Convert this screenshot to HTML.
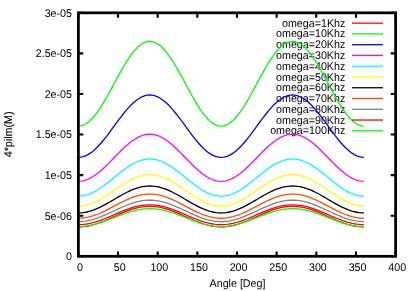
<!DOCTYPE html>
<html><head><meta charset="utf-8"><title>plot</title>
<style>html,body{margin:0;padding:0;background:#fff;}svg{display:block;will-change:transform;}text{font-family:"Liberation Sans",sans-serif;font-size:10.7px;fill:#000;text-rendering:geometricPrecision;}</style></head>
<body>
<svg width="415" height="291" viewBox="0 0 415 291">
<rect x="0" y="0" width="415" height="291" fill="#fff"/>
<text transform="translate(72.0 260.10) scale(1 1.04)" text-anchor="end">0</text>
<text transform="translate(72.0 219.52) scale(1 1.04)" text-anchor="end">5e-06</text>
<text transform="translate(72.0 178.94) scale(1 1.04)" text-anchor="end">1e-05</text>
<text transform="translate(72.0 138.37) scale(1 1.04)" text-anchor="end">1.5e-05</text>
<text transform="translate(72.0 97.79) scale(1 1.04)" text-anchor="end">2e-05</text>
<text transform="translate(72.0 57.21) scale(1 1.04)" text-anchor="end">2.5e-05</text>
<text transform="translate(72.0 16.63) scale(1 1.04)" text-anchor="end">3e-05</text>
<text transform="translate(80.00 271.1) scale(1 1.04)" text-anchor="middle">0</text>
<text transform="translate(119.65 271.1) scale(1 1.04)" text-anchor="middle">50</text>
<text transform="translate(159.30 271.1) scale(1 1.04)" text-anchor="middle">100</text>
<text transform="translate(198.95 271.1) scale(1 1.04)" text-anchor="middle">150</text>
<text transform="translate(238.60 271.1) scale(1 1.04)" text-anchor="middle">200</text>
<text transform="translate(278.25 271.1) scale(1 1.04)" text-anchor="middle">250</text>
<text transform="translate(317.90 271.1) scale(1 1.04)" text-anchor="middle">300</text>
<text transform="translate(357.55 271.1) scale(1 1.04)" text-anchor="middle">350</text>
<text transform="translate(397.20 271.1) scale(1 1.04)" text-anchor="middle">400</text>
<text transform="translate(237.5 286.9) scale(1 1.04)" text-anchor="middle">Angle [Deg]</text>
<text transform="translate(12.4,134.4) rotate(-90) scale(1 1.04)" text-anchor="middle" stroke="#000" stroke-width="0.12">4*pilm(M)</text>
<text transform="translate(345.3 26.70) scale(1 1.04)" text-anchor="end">omega=1Khz</text>
<text transform="translate(345.3 37.46) scale(1 1.04)" text-anchor="end">omega=10Khz</text>
<text transform="translate(345.3 48.23) scale(1 1.04)" text-anchor="end">omega=20Khz</text>
<text transform="translate(345.3 58.99) scale(1 1.04)" text-anchor="end">omega=30Khz</text>
<text transform="translate(345.3 69.76) scale(1 1.04)" text-anchor="end">omega=40Khz</text>
<text transform="translate(345.3 80.52) scale(1 1.04)" text-anchor="end">omega=50Khz</text>
<text transform="translate(345.3 91.29) scale(1 1.04)" text-anchor="end">omega=60Khz</text>
<text transform="translate(345.3 102.05) scale(1 1.04)" text-anchor="end">omega=70Khz</text>
<text transform="translate(345.3 112.82) scale(1 1.04)" text-anchor="end">omega=80Khz</text>
<text transform="translate(345.3 123.58) scale(1 1.04)" text-anchor="end">omega=90Khz</text>
<text transform="translate(345.3 134.35) scale(1 1.04)" text-anchor="end">omega=100Khz</text>
<path d="M352 23.15H382.9" stroke="#ff0000" stroke-width="1.3" fill="none"/>
<path d="M78.40 226.90 L80.78 226.84 L83.16 226.67 L85.54 226.40 L87.92 226.01 L90.30 225.52 L92.67 224.93 L95.05 224.25 L97.43 223.49 L99.81 222.65 L102.19 221.75 L104.57 220.79 L106.95 219.78 L109.33 218.74 L111.71 217.68 L114.09 216.60 L116.46 215.52 L118.84 214.46 L121.22 213.42 L123.60 212.41 L125.98 211.45 L128.36 210.55 L130.74 209.71 L133.12 208.95 L135.50 208.27 L137.88 207.68 L140.25 207.19 L142.63 206.80 L145.01 206.53 L147.39 206.36 L149.77 206.30 L152.15 206.36 L154.53 206.53 L156.91 206.80 L159.29 207.19 L161.67 207.68 L164.04 208.27 L166.42 208.95 L168.80 209.71 L171.18 210.55 L173.56 211.45 L175.94 212.41 L178.32 213.42 L180.70 214.46 L183.08 215.52 L185.46 216.60 L187.83 217.68 L190.21 218.74 L192.59 219.78 L194.97 220.79 L197.35 221.75 L199.73 222.65 L202.11 223.49 L204.49 224.25 L206.87 224.93 L209.25 225.52 L211.62 226.01 L214.00 226.40 L216.38 226.67 L218.76 226.84 L221.14 226.90 L223.52 226.84 L225.90 226.67 L228.28 226.40 L230.66 226.01 L233.04 225.52 L235.41 224.93 L237.79 224.25 L240.17 223.49 L242.55 222.65 L244.93 221.75 L247.31 220.79 L249.69 219.78 L252.07 218.74 L254.45 217.68 L256.83 216.60 L259.20 215.52 L261.58 214.46 L263.96 213.42 L266.34 212.41 L268.72 211.45 L271.10 210.55 L273.48 209.71 L275.86 208.95 L278.24 208.27 L280.62 207.68 L282.99 207.19 L285.37 206.80 L287.75 206.53 L290.13 206.36 L292.51 206.30 L294.89 206.36 L297.27 206.53 L299.65 206.80 L302.03 207.19 L304.41 207.68 L306.78 208.27 L309.16 208.95 L311.54 209.71 L313.92 210.55 L316.30 211.45 L318.68 212.41 L321.06 213.42 L323.44 214.46 L325.82 215.52 L328.20 216.60 L330.57 217.68 L332.95 218.74 L335.33 219.78 L337.71 220.79 L340.09 221.75 L342.47 222.65 L344.85 223.49 L347.23 224.25 L349.61 224.93 L351.99 225.52 L354.36 226.01 L356.74 226.40 L359.12 226.67 L361.50 226.84 L363.88 226.90" stroke="#ff0000" stroke-width="1.3" fill="none" stroke-linejoin="round"/>
<path d="M352 33.91H382.9" stroke="#00ff00" stroke-width="1.3" fill="none"/>
<path d="M78.40 126.05 L80.78 125.82 L83.16 125.12 L85.54 123.98 L87.92 122.39 L90.30 120.38 L92.67 117.96 L95.05 115.17 L97.43 112.04 L99.81 108.59 L102.19 104.88 L104.57 100.93 L106.95 96.79 L109.33 92.51 L111.71 88.13 L114.09 83.70 L116.46 79.27 L118.84 74.89 L121.22 70.61 L123.60 66.47 L125.98 62.53 L128.36 58.81 L130.74 55.36 L133.12 52.23 L135.50 49.44 L137.88 47.02 L140.25 45.01 L142.63 43.42 L145.01 42.28 L147.39 41.58 L149.77 41.35 L152.15 41.58 L154.53 42.28 L156.91 43.42 L159.29 45.01 L161.67 47.02 L164.04 49.44 L166.42 52.23 L168.80 55.36 L171.18 58.81 L173.56 62.52 L175.94 66.47 L178.32 70.61 L180.70 74.89 L183.08 79.27 L185.46 83.70 L187.83 88.13 L190.21 92.51 L192.59 96.79 L194.97 100.93 L197.35 104.88 L199.73 108.59 L202.11 112.04 L204.49 115.17 L206.87 117.96 L209.25 120.38 L211.62 122.39 L214.00 123.98 L216.38 125.12 L218.76 125.82 L221.14 126.05 L223.52 125.82 L225.90 125.12 L228.28 123.98 L230.66 122.39 L233.04 120.38 L235.41 117.96 L237.79 115.17 L240.17 112.04 L242.55 108.59 L244.93 104.87 L247.31 100.93 L249.69 96.79 L252.07 92.51 L254.45 88.13 L256.83 83.70 L259.20 79.27 L261.58 74.89 L263.96 70.61 L266.34 66.47 L268.72 62.53 L271.10 58.81 L273.48 55.36 L275.86 52.23 L278.24 49.44 L280.62 47.02 L282.99 45.01 L285.37 43.42 L287.75 42.28 L290.13 41.58 L292.51 41.35 L294.89 41.58 L297.27 42.28 L299.65 43.42 L302.03 45.01 L304.41 47.02 L306.78 49.44 L309.16 52.23 L311.54 55.36 L313.92 58.81 L316.30 62.53 L318.68 66.47 L321.06 70.61 L323.44 74.89 L325.82 79.27 L328.20 83.70 L330.57 88.13 L332.95 92.51 L335.33 96.79 L337.71 100.93 L340.09 104.87 L342.47 108.59 L344.85 112.04 L347.23 115.17 L349.61 117.96 L351.99 120.38 L354.36 122.39 L356.74 123.98 L359.12 125.12 L361.50 125.82 L363.88 126.05" stroke="#00ff00" stroke-width="1.3" fill="none" stroke-linejoin="round"/>
<path d="M352 44.68H382.9" stroke="#0000ff" stroke-width="1.3" fill="none"/>
<path d="M78.40 157.35 L80.78 157.18 L83.16 156.67 L85.54 155.82 L87.92 154.65 L90.30 153.17 L92.67 151.40 L95.05 149.34 L97.43 147.04 L99.81 144.50 L102.19 141.76 L104.57 138.86 L106.95 135.81 L109.33 132.66 L111.71 129.43 L114.09 126.18 L116.46 122.92 L118.84 119.69 L121.22 116.54 L123.60 113.49 L125.98 110.59 L128.36 107.85 L130.74 105.31 L133.12 103.01 L135.50 100.95 L137.88 99.18 L140.25 97.70 L142.63 96.53 L145.01 95.68 L147.39 95.17 L149.77 95.00 L152.15 95.17 L154.53 95.68 L156.91 96.53 L159.29 97.70 L161.67 99.18 L164.04 100.95 L166.42 103.01 L168.80 105.31 L171.18 107.85 L173.56 110.59 L175.94 113.49 L178.32 116.54 L180.70 119.69 L183.08 122.92 L185.46 126.17 L187.83 129.43 L190.21 132.66 L192.59 135.81 L194.97 138.86 L197.35 141.76 L199.73 144.50 L202.11 147.04 L204.49 149.34 L206.87 151.40 L209.25 153.17 L211.62 154.65 L214.00 155.82 L216.38 156.67 L218.76 157.18 L221.14 157.35 L223.52 157.18 L225.90 156.67 L228.28 155.82 L230.66 154.65 L233.04 153.17 L235.41 151.40 L237.79 149.34 L240.17 147.04 L242.55 144.50 L244.93 141.76 L247.31 138.86 L249.69 135.81 L252.07 132.66 L254.45 129.43 L256.83 126.18 L259.20 122.92 L261.58 119.69 L263.96 116.54 L266.34 113.49 L268.72 110.59 L271.10 107.85 L273.48 105.31 L275.86 103.01 L278.24 100.95 L280.62 99.18 L282.99 97.70 L285.37 96.53 L287.75 95.68 L290.13 95.17 L292.51 95.00 L294.89 95.17 L297.27 95.68 L299.65 96.53 L302.03 97.70 L304.41 99.18 L306.78 100.95 L309.16 103.01 L311.54 105.31 L313.92 107.85 L316.30 110.59 L318.68 113.49 L321.06 116.54 L323.44 119.69 L325.82 122.92 L328.20 126.17 L330.57 129.43 L332.95 132.66 L335.33 135.81 L337.71 138.86 L340.09 141.76 L342.47 144.50 L344.85 147.04 L347.23 149.34 L349.61 151.40 L351.99 153.17 L354.36 154.65 L356.74 155.82 L359.12 156.67 L361.50 157.18 L363.88 157.35" stroke="#0000ff" stroke-width="1.3" fill="none" stroke-linejoin="round"/>
<path d="M352 55.45H382.9" stroke="#ff00ff" stroke-width="1.3" fill="none"/>
<path d="M78.40 181.30 L80.78 181.17 L83.16 180.79 L85.54 180.15 L87.92 179.26 L90.30 178.14 L92.67 176.80 L95.05 175.25 L97.43 173.51 L99.81 171.59 L102.19 169.53 L104.57 167.33 L106.95 165.03 L109.33 162.65 L111.71 160.21 L114.09 157.75 L116.46 155.29 L118.84 152.85 L121.22 150.47 L123.60 148.17 L125.98 145.97 L128.36 143.91 L130.74 141.99 L133.12 140.25 L135.50 138.70 L137.88 137.36 L140.25 136.24 L142.63 135.35 L145.01 134.71 L147.39 134.33 L149.77 134.20 L152.15 134.33 L154.53 134.71 L156.91 135.35 L159.29 136.24 L161.67 137.36 L164.04 138.70 L166.42 140.25 L168.80 141.99 L171.18 143.91 L173.56 145.97 L175.94 148.17 L178.32 150.47 L180.70 152.85 L183.08 155.29 L185.46 157.75 L187.83 160.21 L190.21 162.65 L192.59 165.03 L194.97 167.33 L197.35 169.53 L199.73 171.59 L202.11 173.51 L204.49 175.25 L206.87 176.80 L209.25 178.14 L211.62 179.26 L214.00 180.15 L216.38 180.79 L218.76 181.17 L221.14 181.30 L223.52 181.17 L225.90 180.79 L228.28 180.15 L230.66 179.26 L233.04 178.14 L235.41 176.80 L237.79 175.25 L240.17 173.51 L242.55 171.59 L244.93 169.53 L247.31 167.33 L249.69 165.03 L252.07 162.65 L254.45 160.21 L256.83 157.75 L259.20 155.29 L261.58 152.85 L263.96 150.47 L266.34 148.17 L268.72 145.98 L271.10 143.91 L273.48 141.99 L275.86 140.25 L278.24 138.70 L280.62 137.36 L282.99 136.24 L285.37 135.35 L287.75 134.71 L290.13 134.33 L292.51 134.20 L294.89 134.33 L297.27 134.71 L299.65 135.35 L302.03 136.24 L304.41 137.36 L306.78 138.70 L309.16 140.25 L311.54 141.99 L313.92 143.91 L316.30 145.97 L318.68 148.17 L321.06 150.47 L323.44 152.85 L325.82 155.29 L328.20 157.75 L330.57 160.21 L332.95 162.65 L335.33 165.03 L337.71 167.33 L340.09 169.52 L342.47 171.59 L344.85 173.51 L347.23 175.25 L349.61 176.80 L351.99 178.14 L354.36 179.26 L356.74 180.15 L359.12 180.79 L361.50 181.17 L363.88 181.30" stroke="#ff00ff" stroke-width="1.3" fill="none" stroke-linejoin="round"/>
<path d="M352 66.21H382.9" stroke="#00ffff" stroke-width="1.3" fill="none"/>
<path d="M78.40 196.10 L80.78 196.00 L83.16 195.69 L85.54 195.19 L87.92 194.50 L90.30 193.61 L92.67 192.56 L95.05 191.34 L97.43 189.96 L99.81 188.45 L102.19 186.82 L104.57 185.09 L106.95 183.28 L109.33 181.41 L111.71 179.49 L114.09 177.55 L116.46 175.61 L118.84 173.69 L121.22 171.82 L123.60 170.01 L125.98 168.28 L128.36 166.65 L130.74 165.14 L133.12 163.76 L135.50 162.54 L137.88 161.49 L140.25 160.60 L142.63 159.91 L145.01 159.41 L147.39 159.10 L149.77 159.00 L152.15 159.10 L154.53 159.41 L156.91 159.91 L159.29 160.60 L161.67 161.49 L164.04 162.54 L166.42 163.76 L168.80 165.14 L171.18 166.65 L173.56 168.28 L175.94 170.01 L178.32 171.82 L180.70 173.69 L183.08 175.61 L185.46 177.55 L187.83 179.49 L190.21 181.41 L192.59 183.28 L194.97 185.09 L197.35 186.82 L199.73 188.45 L202.11 189.96 L204.49 191.34 L206.87 192.56 L209.25 193.61 L211.62 194.50 L214.00 195.19 L216.38 195.69 L218.76 196.00 L221.14 196.10 L223.52 196.00 L225.90 195.69 L228.28 195.19 L230.66 194.50 L233.04 193.61 L235.41 192.56 L237.79 191.34 L240.17 189.96 L242.55 188.45 L244.93 186.82 L247.31 185.09 L249.69 183.28 L252.07 181.41 L254.45 179.49 L256.83 177.55 L259.20 175.61 L261.58 173.69 L263.96 171.82 L266.34 170.01 L268.72 168.28 L271.10 166.65 L273.48 165.14 L275.86 163.76 L278.24 162.54 L280.62 161.49 L282.99 160.60 L285.37 159.91 L287.75 159.41 L290.13 159.10 L292.51 159.00 L294.89 159.10 L297.27 159.41 L299.65 159.91 L302.03 160.60 L304.41 161.49 L306.78 162.54 L309.16 163.76 L311.54 165.14 L313.92 166.65 L316.30 168.28 L318.68 170.01 L321.06 171.82 L323.44 173.69 L325.82 175.61 L328.20 177.55 L330.57 179.49 L332.95 181.41 L335.33 183.28 L337.71 185.09 L340.09 186.82 L342.47 188.45 L344.85 189.96 L347.23 191.34 L349.61 192.56 L351.99 193.61 L354.36 194.50 L356.74 195.19 L359.12 195.69 L361.50 196.00 L363.88 196.10" stroke="#00ffff" stroke-width="1.3" fill="none" stroke-linejoin="round"/>
<path d="M352 76.97H382.9" stroke="#ffff00" stroke-width="1.3" fill="none"/>
<path d="M78.40 206.10 L80.78 206.01 L83.16 205.76 L85.54 205.33 L87.92 204.74 L90.30 203.99 L92.67 203.10 L95.05 202.06 L97.43 200.90 L99.81 199.62 L102.19 198.24 L104.57 196.77 L106.95 195.23 L109.33 193.64 L111.71 192.02 L114.09 190.38 L116.46 188.73 L118.84 187.11 L121.22 185.52 L123.60 183.98 L125.98 182.51 L128.36 181.13 L130.74 179.85 L133.12 178.69 L135.50 177.65 L137.88 176.76 L140.25 176.01 L142.63 175.42 L145.01 174.99 L147.39 174.74 L149.77 174.65 L152.15 174.74 L154.53 174.99 L156.91 175.42 L159.29 176.01 L161.67 176.76 L164.04 177.65 L166.42 178.69 L168.80 179.85 L171.18 181.13 L173.56 182.51 L175.94 183.98 L178.32 185.52 L180.70 187.11 L183.08 188.73 L185.46 190.38 L187.83 192.02 L190.21 193.64 L192.59 195.23 L194.97 196.77 L197.35 198.24 L199.73 199.62 L202.11 200.90 L204.49 202.06 L206.87 203.10 L209.25 203.99 L211.62 204.74 L214.00 205.33 L216.38 205.76 L218.76 206.01 L221.14 206.10 L223.52 206.01 L225.90 205.76 L228.28 205.33 L230.66 204.74 L233.04 203.99 L235.41 203.10 L237.79 202.06 L240.17 200.90 L242.55 199.62 L244.93 198.24 L247.31 196.77 L249.69 195.23 L252.07 193.64 L254.45 192.02 L256.83 190.38 L259.20 188.73 L261.58 187.11 L263.96 185.52 L266.34 183.98 L268.72 182.51 L271.10 181.13 L273.48 179.85 L275.86 178.69 L278.24 177.65 L280.62 176.76 L282.99 176.01 L285.37 175.42 L287.75 174.99 L290.13 174.74 L292.51 174.65 L294.89 174.74 L297.27 174.99 L299.65 175.42 L302.03 176.01 L304.41 176.76 L306.78 177.65 L309.16 178.69 L311.54 179.85 L313.92 181.13 L316.30 182.51 L318.68 183.98 L321.06 185.52 L323.44 187.11 L325.82 188.73 L328.20 190.38 L330.57 192.02 L332.95 193.64 L335.33 195.23 L337.71 196.77 L340.09 198.24 L342.47 199.62 L344.85 200.90 L347.23 202.06 L349.61 203.10 L351.99 203.99 L354.36 204.74 L356.74 205.33 L359.12 205.76 L361.50 206.01 L363.88 206.10" stroke="#ffff00" stroke-width="1.3" fill="none" stroke-linejoin="round"/>
<path d="M352 87.74H382.9" stroke="#000000" stroke-width="1.3" fill="none"/>
<path d="M78.40 212.90 L80.78 212.83 L83.16 212.61 L85.54 212.24 L87.92 211.74 L90.30 211.10 L92.67 210.33 L95.05 209.45 L97.43 208.45 L99.81 207.36 L102.19 206.18 L104.57 204.92 L106.95 203.61 L109.33 202.25 L111.71 200.86 L114.09 199.45 L116.46 198.04 L118.84 196.65 L121.22 195.29 L123.60 193.98 L125.98 192.72 L128.36 191.54 L130.74 190.45 L133.12 189.45 L135.50 188.57 L137.88 187.80 L140.25 187.16 L142.63 186.66 L145.01 186.29 L147.39 186.07 L149.77 186.00 L152.15 186.07 L154.53 186.29 L156.91 186.66 L159.29 187.16 L161.67 187.80 L164.04 188.57 L166.42 189.45 L168.80 190.45 L171.18 191.54 L173.56 192.72 L175.94 193.98 L178.32 195.29 L180.70 196.65 L183.08 198.04 L185.46 199.45 L187.83 200.86 L190.21 202.25 L192.59 203.61 L194.97 204.92 L197.35 206.18 L199.73 207.36 L202.11 208.45 L204.49 209.45 L206.87 210.33 L209.25 211.10 L211.62 211.74 L214.00 212.24 L216.38 212.61 L218.76 212.83 L221.14 212.90 L223.52 212.83 L225.90 212.61 L228.28 212.24 L230.66 211.74 L233.04 211.10 L235.41 210.33 L237.79 209.45 L240.17 208.45 L242.55 207.36 L244.93 206.18 L247.31 204.92 L249.69 203.61 L252.07 202.25 L254.45 200.86 L256.83 199.45 L259.20 198.04 L261.58 196.65 L263.96 195.29 L266.34 193.98 L268.72 192.73 L271.10 191.54 L273.48 190.45 L275.86 189.45 L278.24 188.57 L280.62 187.80 L282.99 187.16 L285.37 186.66 L287.75 186.29 L290.13 186.07 L292.51 186.00 L294.89 186.07 L297.27 186.29 L299.65 186.66 L302.03 187.16 L304.41 187.80 L306.78 188.57 L309.16 189.45 L311.54 190.45 L313.92 191.54 L316.30 192.72 L318.68 193.98 L321.06 195.29 L323.44 196.65 L325.82 198.04 L328.20 199.45 L330.57 200.86 L332.95 202.25 L335.33 203.61 L337.71 204.92 L340.09 206.17 L342.47 207.36 L344.85 208.45 L347.23 209.45 L349.61 210.33 L351.99 211.10 L354.36 211.74 L356.74 212.24 L359.12 212.61 L361.50 212.83 L363.88 212.90" stroke="#000000" stroke-width="1.3" fill="none" stroke-linejoin="round"/>
<path d="M352 98.50H382.9" stroke="#ff4d00" stroke-width="1.3" fill="none"/>
<path d="M78.40 218.25 L80.78 218.18 L83.16 217.99 L85.54 217.66 L87.92 217.21 L90.30 216.63 L92.67 215.94 L95.05 215.15 L97.43 214.25 L99.81 213.27 L102.19 212.21 L104.57 211.09 L106.95 209.91 L109.33 208.69 L111.71 207.44 L114.09 206.18 L116.46 204.91 L118.84 203.66 L121.22 202.44 L123.60 201.26 L125.98 200.14 L128.36 199.08 L130.74 198.10 L133.12 197.20 L135.50 196.41 L137.88 195.72 L140.25 195.14 L142.63 194.69 L145.01 194.36 L147.39 194.17 L149.77 194.10 L152.15 194.17 L154.53 194.36 L156.91 194.69 L159.29 195.14 L161.67 195.72 L164.04 196.41 L166.42 197.20 L168.80 198.10 L171.18 199.08 L173.56 200.14 L175.94 201.26 L178.32 202.44 L180.70 203.66 L183.08 204.91 L185.46 206.17 L187.83 207.44 L190.21 208.69 L192.59 209.91 L194.97 211.09 L197.35 212.21 L199.73 213.27 L202.11 214.25 L204.49 215.15 L206.87 215.94 L209.25 216.63 L211.62 217.21 L214.00 217.66 L216.38 217.99 L218.76 218.18 L221.14 218.25 L223.52 218.18 L225.90 217.99 L228.28 217.66 L230.66 217.21 L233.04 216.63 L235.41 215.94 L237.79 215.15 L240.17 214.25 L242.55 213.27 L244.93 212.21 L247.31 211.09 L249.69 209.91 L252.07 208.69 L254.45 207.44 L256.83 206.18 L259.20 204.91 L261.58 203.66 L263.96 202.44 L266.34 201.26 L268.72 200.14 L271.10 199.08 L273.48 198.10 L275.86 197.20 L278.24 196.41 L280.62 195.72 L282.99 195.14 L285.37 194.69 L287.75 194.36 L290.13 194.17 L292.51 194.10 L294.89 194.17 L297.27 194.36 L299.65 194.69 L302.03 195.14 L304.41 195.72 L306.78 196.41 L309.16 197.20 L311.54 198.10 L313.92 199.08 L316.30 200.14 L318.68 201.26 L321.06 202.44 L323.44 203.66 L325.82 204.91 L328.20 206.17 L330.57 207.44 L332.95 208.69 L335.33 209.91 L337.71 211.09 L340.09 212.21 L342.47 213.27 L344.85 214.25 L347.23 215.15 L349.61 215.94 L351.99 216.63 L354.36 217.21 L356.74 217.66 L359.12 217.99 L361.50 218.18 L363.88 218.25" stroke="#ff4d00" stroke-width="1.3" fill="none" stroke-linejoin="round"/>
<path d="M352 109.27H382.9" stroke="#808080" stroke-width="1.3" fill="none"/>
<path d="M78.40 221.55 L80.78 221.49 L83.16 221.32 L85.54 221.03 L87.92 220.63 L90.30 220.12 L92.67 219.51 L95.05 218.81 L97.43 218.02 L99.81 217.15 L102.19 216.21 L104.57 215.22 L106.95 214.17 L109.33 213.09 L111.71 211.99 L114.09 210.88 L116.46 209.76 L118.84 208.66 L121.22 207.58 L123.60 206.53 L125.98 205.54 L128.36 204.60 L130.74 203.73 L133.12 202.94 L135.50 202.24 L137.88 201.63 L140.25 201.12 L142.63 200.72 L145.01 200.43 L147.39 200.26 L149.77 200.20 L152.15 200.26 L154.53 200.43 L156.91 200.72 L159.29 201.12 L161.67 201.63 L164.04 202.24 L166.42 202.94 L168.80 203.73 L171.18 204.60 L173.56 205.54 L175.94 206.53 L178.32 207.58 L180.70 208.66 L183.08 209.76 L185.46 210.88 L187.83 211.99 L190.21 213.09 L192.59 214.17 L194.97 215.22 L197.35 216.21 L199.73 217.15 L202.11 218.02 L204.49 218.81 L206.87 219.51 L209.25 220.12 L211.62 220.63 L214.00 221.03 L216.38 221.32 L218.76 221.49 L221.14 221.55 L223.52 221.49 L225.90 221.32 L228.28 221.03 L230.66 220.63 L233.04 220.12 L235.41 219.51 L237.79 218.81 L240.17 218.02 L242.55 217.15 L244.93 216.21 L247.31 215.22 L249.69 214.17 L252.07 213.09 L254.45 211.99 L256.83 210.88 L259.20 209.76 L261.58 208.66 L263.96 207.58 L266.34 206.53 L268.72 205.54 L271.10 204.60 L273.48 203.73 L275.86 202.94 L278.24 202.24 L280.62 201.63 L282.99 201.12 L285.37 200.72 L287.75 200.43 L290.13 200.26 L292.51 200.20 L294.89 200.26 L297.27 200.43 L299.65 200.72 L302.03 201.12 L304.41 201.63 L306.78 202.24 L309.16 202.94 L311.54 203.73 L313.92 204.60 L316.30 205.54 L318.68 206.53 L321.06 207.58 L323.44 208.66 L325.82 209.76 L328.20 210.88 L330.57 211.99 L332.95 213.09 L335.33 214.17 L337.71 215.22 L340.09 216.21 L342.47 217.15 L344.85 218.02 L347.23 218.81 L349.61 219.51 L351.99 220.12 L354.36 220.63 L356.74 221.03 L359.12 221.32 L361.50 221.49 L363.88 221.55" stroke="#808080" stroke-width="1.3" fill="none" stroke-linejoin="round"/>
<path d="M352 120.03H382.9" stroke="#ff0000" stroke-width="1.3" fill="none"/>
<path d="M78.40 224.60 L80.78 224.55 L83.16 224.38 L85.54 224.12 L87.92 223.75 L90.30 223.28 L92.67 222.71 L95.05 222.06 L97.43 221.33 L99.81 220.53 L102.19 219.66 L104.57 218.74 L106.95 217.78 L109.33 216.78 L111.71 215.76 L114.09 214.72 L116.46 213.69 L118.84 212.67 L121.22 211.67 L123.60 210.71 L125.98 209.79 L128.36 208.92 L130.74 208.12 L133.12 207.39 L135.50 206.74 L137.88 206.17 L140.25 205.70 L142.63 205.33 L145.01 205.07 L147.39 204.90 L149.77 204.85 L152.15 204.90 L154.53 205.07 L156.91 205.33 L159.29 205.70 L161.67 206.17 L164.04 206.74 L166.42 207.39 L168.80 208.12 L171.18 208.92 L173.56 209.79 L175.94 210.71 L178.32 211.67 L180.70 212.67 L183.08 213.69 L185.46 214.72 L187.83 215.76 L190.21 216.78 L192.59 217.78 L194.97 218.74 L197.35 219.66 L199.73 220.53 L202.11 221.33 L204.49 222.06 L206.87 222.71 L209.25 223.28 L211.62 223.75 L214.00 224.12 L216.38 224.38 L218.76 224.55 L221.14 224.60 L223.52 224.55 L225.90 224.38 L228.28 224.12 L230.66 223.75 L233.04 223.28 L235.41 222.71 L237.79 222.06 L240.17 221.33 L242.55 220.53 L244.93 219.66 L247.31 218.74 L249.69 217.78 L252.07 216.78 L254.45 215.76 L256.83 214.72 L259.20 213.69 L261.58 212.67 L263.96 211.67 L266.34 210.71 L268.72 209.79 L271.10 208.92 L273.48 208.12 L275.86 207.39 L278.24 206.74 L280.62 206.17 L282.99 205.70 L285.37 205.33 L287.75 205.07 L290.13 204.90 L292.51 204.85 L294.89 204.90 L297.27 205.07 L299.65 205.33 L302.03 205.70 L304.41 206.17 L306.78 206.74 L309.16 207.39 L311.54 208.12 L313.92 208.92 L316.30 209.79 L318.68 210.71 L321.06 211.67 L323.44 212.67 L325.82 213.69 L328.20 214.72 L330.57 215.76 L332.95 216.78 L335.33 217.78 L337.71 218.74 L340.09 219.66 L342.47 220.53 L344.85 221.33 L347.23 222.06 L349.61 222.71 L351.99 223.28 L354.36 223.75 L356.74 224.12 L359.12 224.38 L361.50 224.55 L363.88 224.60" stroke="#ff0000" stroke-width="1.3" fill="none" stroke-linejoin="round"/>
<path d="M352 130.80H382.9" stroke="#00ff00" stroke-width="1.3" fill="none"/>
<path d="M78.40 226.55 L80.78 226.50 L83.16 226.35 L85.54 226.11 L87.92 225.77 L90.30 225.35 L92.67 224.84 L95.05 224.24 L97.43 223.58 L99.81 222.85 L102.19 222.06 L104.57 221.23 L106.95 220.35 L109.33 219.44 L111.71 218.51 L114.09 217.58 L116.46 216.64 L118.84 215.71 L121.22 214.80 L123.60 213.92 L125.98 213.09 L128.36 212.30 L130.74 211.57 L133.12 210.91 L135.50 210.31 L137.88 209.80 L140.25 209.38 L142.63 209.04 L145.01 208.80 L147.39 208.65 L149.77 208.60 L152.15 208.65 L154.53 208.80 L156.91 209.04 L159.29 209.38 L161.67 209.80 L164.04 210.31 L166.42 210.91 L168.80 211.57 L171.18 212.30 L173.56 213.09 L175.94 213.92 L178.32 214.80 L180.70 215.71 L183.08 216.64 L185.46 217.57 L187.83 218.51 L190.21 219.44 L192.59 220.35 L194.97 221.23 L197.35 222.06 L199.73 222.85 L202.11 223.58 L204.49 224.24 L206.87 224.84 L209.25 225.35 L211.62 225.77 L214.00 226.11 L216.38 226.35 L218.76 226.50 L221.14 226.55 L223.52 226.50 L225.90 226.35 L228.28 226.11 L230.66 225.77 L233.04 225.35 L235.41 224.84 L237.79 224.24 L240.17 223.58 L242.55 222.85 L244.93 222.06 L247.31 221.23 L249.69 220.35 L252.07 219.44 L254.45 218.51 L256.83 217.58 L259.20 216.64 L261.58 215.71 L263.96 214.80 L266.34 213.92 L268.72 213.09 L271.10 212.30 L273.48 211.57 L275.86 210.91 L278.24 210.31 L280.62 209.80 L282.99 209.38 L285.37 209.04 L287.75 208.80 L290.13 208.65 L292.51 208.60 L294.89 208.65 L297.27 208.80 L299.65 209.04 L302.03 209.38 L304.41 209.80 L306.78 210.31 L309.16 210.91 L311.54 211.57 L313.92 212.30 L316.30 213.09 L318.68 213.92 L321.06 214.80 L323.44 215.71 L325.82 216.64 L328.20 217.57 L330.57 218.51 L332.95 219.44 L335.33 220.35 L337.71 221.23 L340.09 222.06 L342.47 222.85 L344.85 223.58 L347.23 224.24 L349.61 224.84 L351.99 225.35 L354.36 225.77 L356.74 226.11 L359.12 226.35 L361.50 226.50 L363.88 226.55" stroke="#00ff00" stroke-width="1.3" fill="none" stroke-linejoin="round"/>
<g stroke="#000" stroke-width="2.75" fill="none" stroke-linecap="butt">
<rect x="78.4" y="12.83" width="317.20000000000005" height="243.47"/>
<path d="M78.40 256.30v-4.90 M78.40 12.83v4.90 M118.05 256.30v-4.90 M118.05 12.83v4.90 M157.70 256.30v-4.90 M157.70 12.83v4.90 M197.35 256.30v-4.90 M197.35 12.83v4.90 M237.00 256.30v-4.90 M237.00 12.83v4.90 M276.65 256.30v-4.90 M276.65 12.83v4.90 M316.30 256.30v-4.90 M316.30 12.83v4.90 M355.95 256.30v-4.90 M355.95 12.83v4.90 M395.60 256.30v-4.90 M395.60 12.83v4.90 M78.40 256.30h4.90 M395.60 256.30h-4.90 M78.40 215.72h4.90 M395.60 215.72h-4.90 M78.40 175.14h4.90 M395.60 175.14h-4.90 M78.40 134.56h4.90 M395.60 134.56h-4.90 M78.40 93.99h4.90 M395.60 93.99h-4.90 M78.40 53.41h4.90 M395.60 53.41h-4.90 M78.40 12.83h4.90 M395.60 12.83h-4.90 " stroke-width="2.1"/>
</g>
</svg>
</body></html>
